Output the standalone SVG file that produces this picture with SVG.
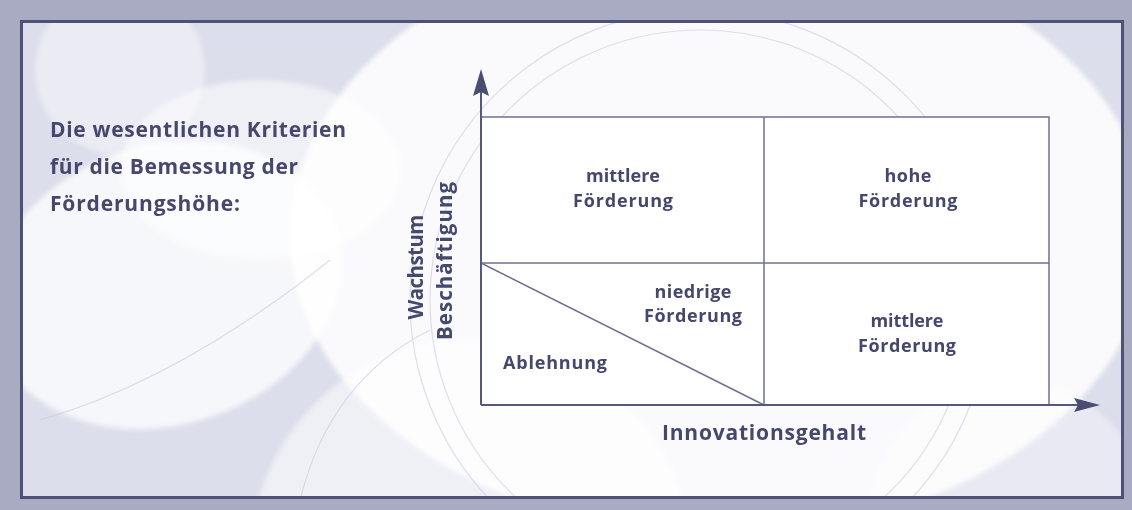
<svg xmlns="http://www.w3.org/2000/svg" width="1132" height="510" viewBox="0 0 1132 510">
  <style>
    .lbl { font-family: "Open Sans", "Noto Sans", "Liberation Sans", sans-serif; font-weight: 700; fill: #45476c; }
    .cell { font-size: 18px; text-anchor: middle; }
    .grid { fill: none; stroke: #6f7192; stroke-width: 1.5; }
    .axis { fill: none; stroke: #55587c; stroke-width: 2; }
    .coin { fill: #ffffff; }
  </style>
  <defs>
    <filter id="soft" x="-10%" y="-10%" width="120%" height="120%">
      <feGaussianBlur stdDeviation="2.5"/>
    </filter>
    <clipPath id="panelClip">
      <rect x="22" y="22" width="1100" height="475"/>
    </clipPath>
  </defs>

  <!-- outer frame band -->
  <rect x="0" y="0" width="1132" height="510" fill="#a9abc3"/>

  <!-- inner panel with faint coin background -->
  <g id="panel">
    <rect x="21.5" y="21.5" width="1101" height="476" fill="#dcdeeb"/>
    <g clip-path="url(#panelClip)" filter="url(#soft)">
      <ellipse class="coin" cx="720" cy="235" rx="430" ry="300" opacity="0.85"/>
      <ellipse class="coin" cx="165" cy="285" rx="180" ry="140" transform="rotate(-18 165 285)" opacity="0.75"/>
      <circle class="coin" cx="120" cy="70" r="85" opacity="0.4"/>
      <circle class="coin" cx="470" cy="560" r="220" opacity="0.55"/>
      <circle class="coin" cx="1010" cy="520" r="140" opacity="0.35"/>
      <ellipse class="coin" cx="260" cy="170" rx="140" ry="90" opacity="0.55"/>
    </g>
    <g clip-path="url(#panelClip)" fill="none" stroke="#c8cade" stroke-width="1.2" opacity="0.6">
      <circle cx="700" cy="300" r="290"/>
      <circle cx="700" cy="300" r="270"/>
      <path d="M40,420 Q180,380 330,260"/>
      <path d="M300,500 Q330,380 430,330"/>
    </g>
    <rect x="21.5" y="21.5" width="1101" height="476" fill="none" stroke="#4e5176" stroke-width="3"/>
  </g>

  <!-- heading -->
  <g id="heading" class="lbl" font-size="21">
    <text x="50" y="137" textLength="296" lengthAdjust="spacing">Die wesentlichen Kriterien</text>
    <text x="50" y="174" textLength="248" lengthAdjust="spacing">für die Bemessung der</text>
    <text x="50" y="211" textLength="190" lengthAdjust="spacing">Förderungshöhe:</text>
  </g>

  <!-- quadrant cells -->
  <g id="cell-top-left">
    <rect x="481" y="117" width="283" height="146" fill="#ffffff"/>
    <text class="lbl cell" x="623" y="182" textLength="74" lengthAdjust="spacing">mittlere</text>
    <text class="lbl cell" x="623" y="207" textLength="100" lengthAdjust="spacing">Förderung</text>
  </g>
  <g id="cell-top-right">
    <rect x="764" y="117" width="285" height="146" fill="#ffffff"/>
    <text class="lbl cell" x="908" y="182" textLength="47" lengthAdjust="spacing">hohe</text>
    <text class="lbl cell" x="908" y="207" textLength="99" lengthAdjust="spacing">Förderung</text>
  </g>
  <g id="cell-bottom-left">
    <rect x="481" y="263" width="283" height="142" fill="#ffffff"/>
    <text class="lbl cell" x="693" y="298" textLength="77" lengthAdjust="spacing">niedrige</text>
    <text class="lbl cell" x="693" y="322" textLength="98" lengthAdjust="spacing">Förderung</text>
    <text class="lbl" font-size="18" x="503" y="369" textLength="104" lengthAdjust="spacing">Ablehnung</text>
  </g>
  <g id="cell-bottom-right">
    <rect x="764" y="263" width="285" height="142" fill="#ffffff"/>
    <text class="lbl cell" x="907" y="327" textLength="73" lengthAdjust="spacing">mittlere</text>
    <text class="lbl cell" x="907" y="352" textLength="98" lengthAdjust="spacing">Förderung</text>
  </g>

  <!-- grid lines, diagonal split and axes -->
  <g id="connectors">
    <path class="grid" d="M481,117 H1049 V405 M764,117 V405 M481,263 H1049"/>
    <path class="grid" d="M481,263 L764,405"/>
    <path class="axis" d="M481,405 V86"/>
    <path class="axis" d="M481,405 H1082"/>
    <path d="M481,69 L489,96 L481,92 L473,96 Z" fill="#4a4d72"/>
    <path d="M1100,405 L1074,398 L1078,405 L1074,412 Z" fill="#4a4d72"/>
  </g>

  <!-- axis labels -->
  <g id="y-label" class="lbl" font-size="20.5" text-anchor="middle">
    <text transform="translate(423 267) rotate(-90)" textLength="105" lengthAdjust="spacing">Wachstum</text>
    <text transform="translate(452 261) rotate(-90)" textLength="158" lengthAdjust="spacing">Beschäftigung</text>
  </g>
  <g id="x-label">
    <text class="lbl" font-size="21" x="662" y="440" textLength="204" lengthAdjust="spacing">Innovationsgehalt</text>
  </g>
</svg>
